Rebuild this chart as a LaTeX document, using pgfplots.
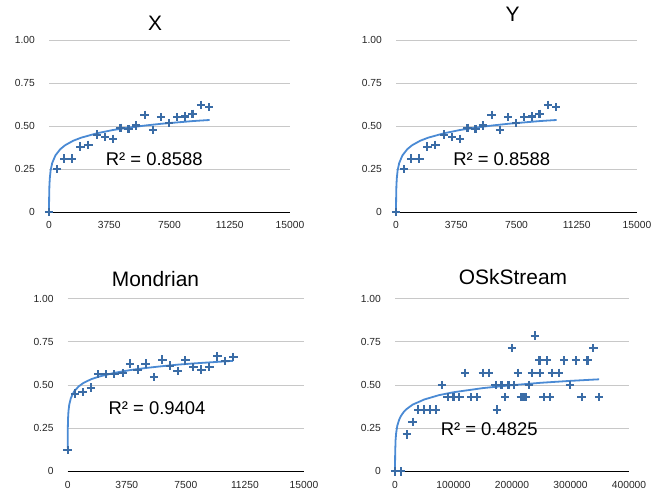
\documentclass[border=0pt]{standalone}
\usepackage{fontspec}
\setmainfont{Liberation Sans}
\usepackage{pgfplots}
\pgfplotsset{compat=1.18}
\definecolor{mk}{HTML}{3A6CA6}
\definecolor{tl}{HTML}{4A8AD4}
\definecolor{gr}{HTML}{C8C8C8}
\pgfplotsset{
 panel/.style={
  scale only axis, anchor=south west, clip=false,
  scaled x ticks=false, scaled y ticks=false,
  ymin=0, ymax=1, ytick={0,0.25,0.5,0.75,1}, yticklabels={0,0.25,0.50,0.75,1.00},
  ymajorgrids, grid style={gr, line width=0.9bp},
  axis x line*=bottom, axis y line*=left,
  y axis line style={draw=none},
  x axis line style={black, line width=0.9bp},
  major tick length=0pt,
  tick label style={font=\fontsize{10.3}{12}\selectfont, text=black!85},
  yticklabel style={anchor=east, inner sep=0pt, xshift=-14bp},
  xticklabel style={anchor=north, inner sep=0pt, yshift=-9.5bp},
 },
 pts/.style={only marks, mark=+, mark size=4.2bp, mk, line width=2.1bp},
 trend/.style={no marks, tl, line width=1.8bp},
}
\pgfplotstableread{
x y
0 0
500 0.25
950 0.31
1450 0.31
1950 0.38
2450 0.39
3000 0.45
3500 0.435
4000 0.425
4450 0.49
4950 0.482
5400 0.503
5950 0.565
6480 0.478
6980 0.551
7480 0.516
7980 0.551
8480 0.555
8930 0.571
9470 0.623
9970 0.609
}\dataX
\pgfplotstableread{
x y
2.3 0.0
5 0.049
10 0.093
25 0.152
50 0.196
100 0.241
200 0.285
400 0.329
700 0.365
1000 0.388
1500 0.414
2000 0.432
3000 0.458
4000 0.477
5000 0.491
6000 0.503
7000 0.513
8000 0.521
9000 0.529
10000 0.535
}\trendX
\pgfplotstableread{
x y
0 0.122
465 0.450
952 0.458
1460 0.485
1925 0.562
2433 0.562
2962 0.562
3490 0.569
3956 0.624
4443 0.589
4950 0.624
5479 0.546
6008 0.647
6495 0.612
6981 0.581
7468 0.643
7976 0.604
8483 0.589
8991 0.604
9499 0.666
10006 0.639
10514 0.662
}\dataM
\pgfplotstableread{
x y
1 0.136
5 0.224
10 0.261
25 0.311
50 0.349
100 0.387
200 0.424
400 0.462
700 0.492
1000 0.512
1500 0.534
2000 0.549
3000 0.571
4000 0.587
5000 0.599
6000 0.609
7000 0.618
8000 0.625
9000 0.631
10000 0.637
10500 0.640
}\trendM
\pgfplotstableread{
x y
0 0
10000 0
20000 0.214
30000 0.286
40000 0.357
50000 0.357
60000 0.357
70000 0.357
80000 0.5
90000 0.429
100000 0.429
110000 0.429
120000 0.571
130000 0.429
140000 0.429
150000 0.571
160000 0.571
172000 0.5
174000 0.357
182000 0.5
188000 0.429
194000 0.5
200000 0.714
203000 0.5
210000 0.571
215000 0.429
219000 0.429
223000 0.429
229000 0.5
234000 0.571
239000 0.786
247000 0.643
248000 0.571
254000 0.429
260000 0.643
265000 0.429
268000 0.571
280000 0.571
289000 0.643
299000 0.5
309000 0.643
319000 0.429
329000 0.643
339000 0.714
349000 0.429
}\dataO
\pgfplotstableread{
x y
48 0.0
100 0.043
300 0.109
1000 0.181
2000 0.223
4000 0.265
7000 0.298
10000 0.320
15000 0.344
20000 0.361
30000 0.386
50000 0.416
75000 0.441
100000 0.458
150000 0.482
200000 0.499
250000 0.513
300000 0.524
349000 0.533
}\trendO
\begin{document}
\begin{tikzpicture}
\useasboundingbox (0,0) rectangle (670bp,494bp);
% X
\begin{axis}[panel, at={(49bp,282bp)}, width=241bp, height=172bp,
  xmin=0, xmax=15000, xtick={0,3750,7500,11250,15000},
  xticklabels={0,3750,7500,11250,15000}]
\addplot[trend] table {\trendX};
\addplot[pts] table {\dataX};
\end{axis}
% Y
\begin{axis}[panel, at={(396bp,282bp)}, width=241bp, height=172bp,
  xmin=0, xmax=15000, xtick={0,3750,7500,11250,15000},
  xticklabels={0,3750,7500,11250,15000}]
\addplot[trend] table {\trendX};
\addplot[pts] table {\dataX};
\end{axis}
% Mondrian
\begin{axis}[panel, at={(67.7bp,22.7bp)}, width=236.3bp, height=172.6bp,
  xmin=0, xmax=15000, xtick={0,3750,7500,11250,15000},
  xticklabels={0,3750,7500,11250,15000}]
\addplot[trend] table {\trendM};
\addplot[pts] table {\dataM};
\end{axis}
% OSkStream
\begin{axis}[panel, at={(395bp,22.7bp)}, width=234bp, height=172.6bp,
  xmin=0, xmax=400000, xtick={0,100000,200000,300000,400000},
  xticklabels={0,100000,200000,300000,400000}]
\addplot[trend] table {\trendO};
\addplot[pts] table {\dataO};
\end{axis}
% titles
\node[anchor=base, font=\fontsize{21}{25}\selectfont] at (155bp,463.3bp) {X};
\node[anchor=base, font=\fontsize{21}{25}\selectfont] at (512.7bp,472.3bp) {Y};
\node[anchor=base, font=\fontsize{21}{25}\selectfont] at (155.5bp,207bp) {Mondrian};
\node[anchor=base, font=\fontsize{21}{25}\selectfont] at (513bp,209.5bp) {OSkStream};
% R^2 labels
\node[anchor=base, font=\fontsize{18.5}{22}\selectfont] at (154.3bp,328.3bp) {R² = 0.8588};
\node[anchor=base, font=\fontsize{18.5}{22}\selectfont] at (501.7bp,328.3bp) {R² = 0.8588};
\node[anchor=base, font=\fontsize{18.5}{22}\selectfont] at (157bp,79.3bp) {R² = 0.9404};
\node[anchor=base, font=\fontsize{18.5}{22}\selectfont] at (489.2bp,58.7bp) {R² = 0.4825};
\end{tikzpicture}
\end{document}
